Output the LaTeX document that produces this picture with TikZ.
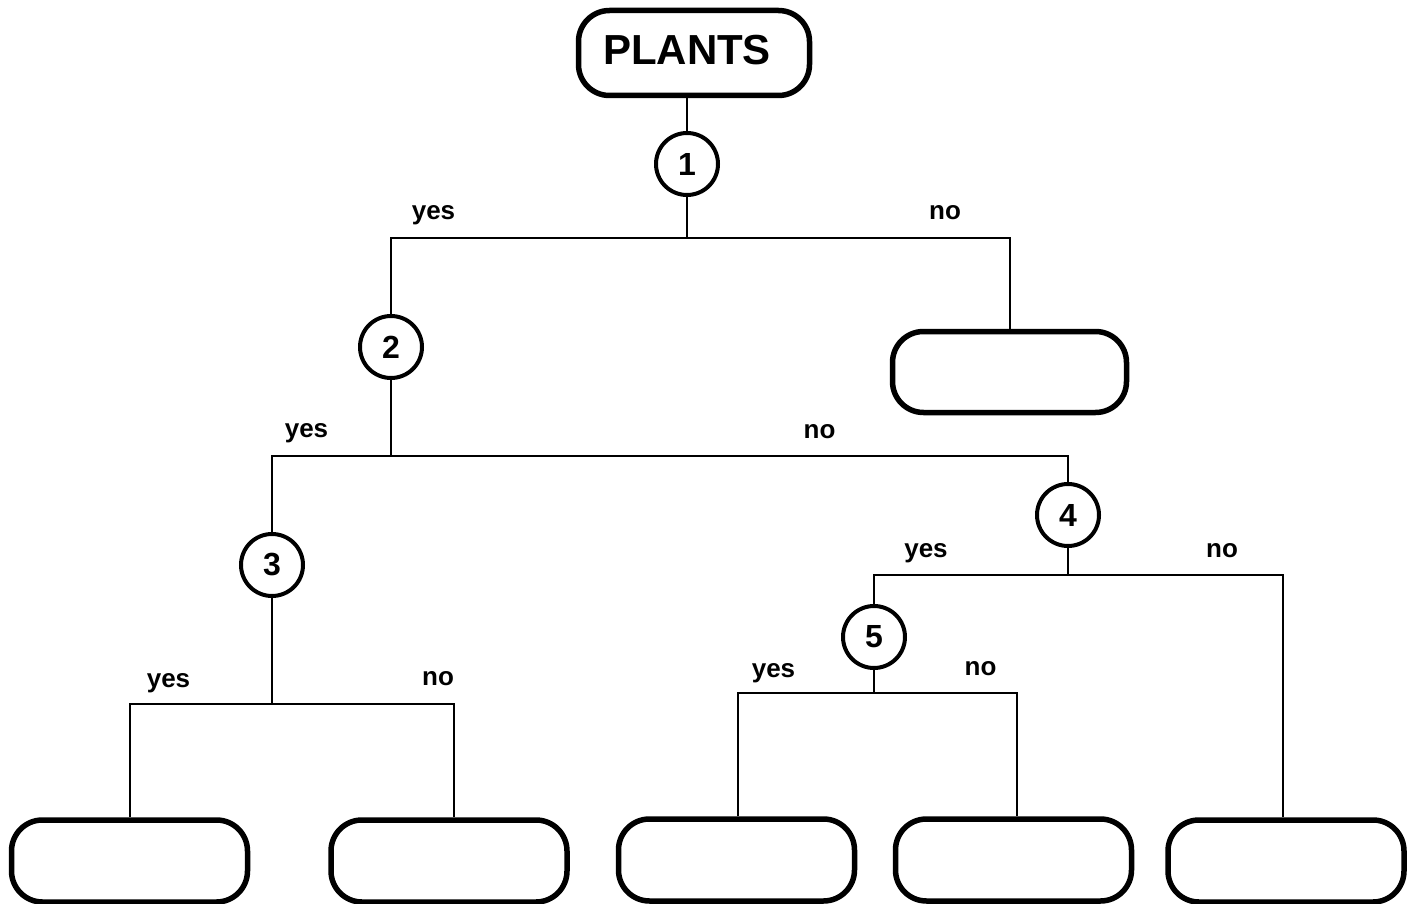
\documentclass[tikz,border=0pt]{standalone}
\usepackage{fontspec}
\setmainfont{Liberation Sans}
\begin{document}
\begin{tikzpicture}[x=1pt,y=-1pt,
  term/.style={draw, line width=5.5pt, rounded corners=31pt, minimum width=236pt,
               minimum height=82pt, inner sep=0pt},
  quest/.style={circle, draw, line width=4pt, minimum size=62pt, inner sep=0pt,
                font=\fontsize{32}{36}\selectfont\bfseries},
  branch/.style={line width=2.6pt},
  lbl/.style={anchor=base, inner sep=0pt, font=\fontsize{26}{30}\selectfont\bfseries}]
\useasboundingbox (0,0) rectangle (1417,904);

% root and question circles
\node[term, minimum width=231pt, minimum height=85pt, text depth=6pt,
      font=\fontsize{42}{46}\selectfont\bfseries] (P) at (694,53) {PLANTS\hspace*{14pt}};
\node[quest] (c1) at (687,164) {1};
\node[quest] (c2) at (391,347) {2};
\node[quest] (c3) at (272,565) {3};
\node[quest] (c4) at (1068,515) {4};
\node[quest] (c5) at (874,637) {5};

% empty answer boxes
\node[term, minimum width=234pt, minimum height=81pt] (rb) at (1009.5,372) {};
\node[term] (b1) at (129.5,861) {};
\node[term] (b2) at (449,861) {};
\node[term] (b3) at (736.5,860) {};
\node[term] (b4) at (1013.5,860) {};
\node[term] (b5) at (1286,861) {};

% branch junctions
\coordinate (h1L) at (391,238);  \coordinate (h1R) at (1010,238);
\coordinate (h2L) at (272,456);  \coordinate (h2R) at (1068,456);
\coordinate (h3L) at (130,704);  \coordinate (h3R) at (454,704);
\coordinate (h4L) at (874,575);  \coordinate (h4R) at (1283,575);
\coordinate (h5L) at (738,693);  \coordinate (h5R) at (1017,693);

% connectors
\draw[branch] (P.south -| c1) -- (c1.north);
\draw[branch] (c1.south) -- (c1.south |- h1L);
\draw[branch] (c2.north) -- (h1L) -- (h1R) -- (h1R |- rb.north);
\draw[branch] (c2.south) -- (c2.south |- h2L);
\draw[branch] (c3.north) -- (h2L) -- (h2R) -- (c4.north);
\draw[branch] (c3.south) -- (c3.south |- h3L);
\draw[branch] (h3L |- b1.north) -- (h3L) -- (h3R) -- (h3R |- b2.north);
\draw[branch] (c4.south) -- (c4.south |- h4L);
\draw[branch] (c5.north) -- (h4L) -- (h4R) -- (h4R |- b5.north);
\draw[branch] (c5.south) -- (c5.south |- h5L);
\draw[branch] (h5L |- b3.north) -- (h5L) -- (h5R) -- (h5R |- b4.north);

% yes / no labels
\node[lbl] (y1) at (433.5,220) {yes};
\node[lbl] (n1) at (945,220) {no};
\node[lbl] (y2) at (306.5,437) {yes};
\node[lbl] (n2) at (819.5,438) {no};
\node[lbl] (y4) at (926,557) {yes};
\node[lbl] (n4) at (1222,557) {no};
\node[lbl] (y3) at (168.5,687) {yes};
\node[lbl] (n3) at (438,685) {no};
\node[lbl] (y5) at (773.5,677) {yes};
\node[lbl] (n5) at (980.5,675) {no};
\end{tikzpicture}
\end{document}
